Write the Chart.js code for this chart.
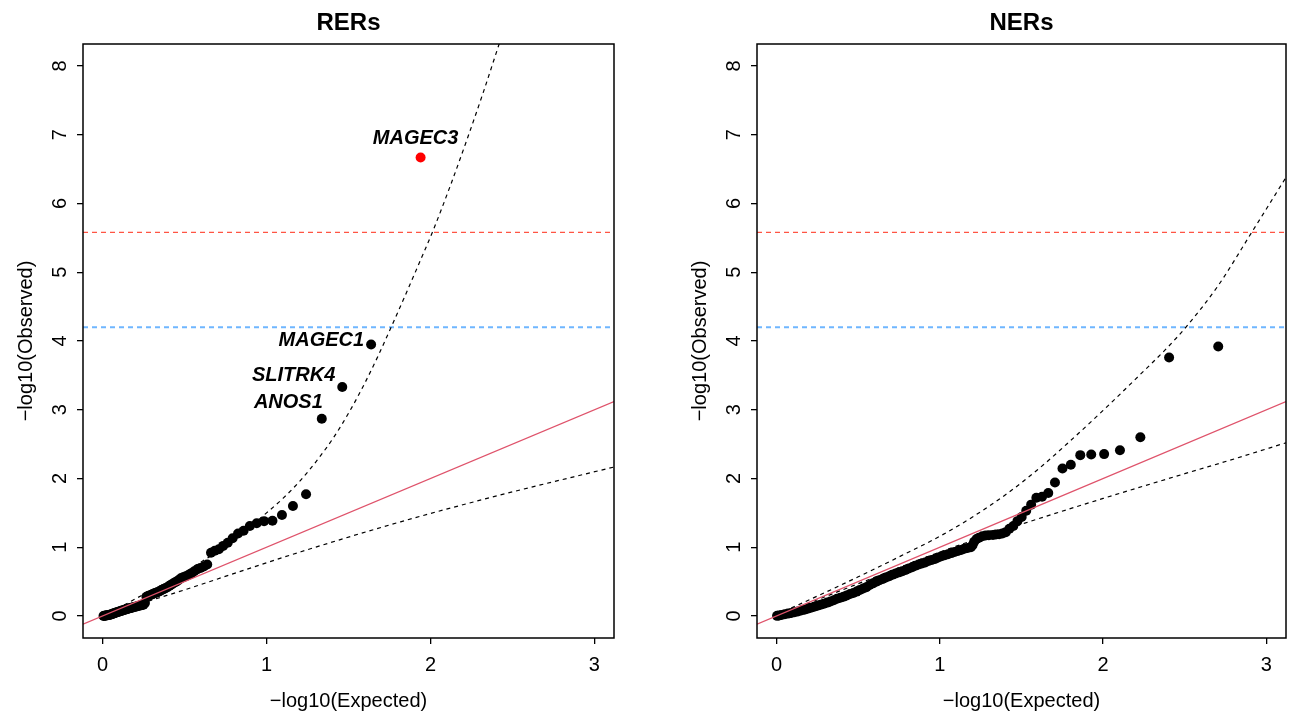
<!DOCTYPE html>
<html>
<head>
<meta charset="utf-8">
<script src="https://cdn.jsdelivr.net/npm/chart.js@4.4.1/dist/chart.umd.min.js"></script>
<style>
html, body { margin: 0; padding: 0; background: #fff; }
#wrap { position: relative; width: 1291px; height: 712px; overflow: hidden; }
canvas { position: absolute; top: 0; }
</style>
</head>
<body>
<div id="wrap">
  <canvas id="rers" width="645" height="712" style="left:0px"></canvas>
  <canvas id="ners" width="617" height="712" style="left:674px"></canvas>
</div>
<script>
// AXES
var xTicks = [0, 1, 2, 3];
var yTicks = [0, 1, 2, 3, 4, 5, 6, 7, 8];
var xRange = [-0.12, 3.12];
var yRange = [-0.32, 8.32];
var sigLine = 5.58;
var suggLine = 4.2;

// RERs panel
var rersExpected = [1.940, 1.638, 1.462, 1.337, 1.241, 1.161, 1.094, 1.036, 0.985, 0.940,
  0.898, 0.860, 0.826, 0.793, 0.763, 0.735, 0.709, 0.684, 0.661, 0.638,
  0.617, 0.597, 0.578, 0.559, 0.542, 0.525, 0.508, 0.492, 0.477, 0.462,
  0.448, 0.434, 0.421, 0.408, 0.395, 0.383, 0.371, 0.360, 0.348, 0.337,
  0.327, 0.316, 0.306, 0.296, 0.286, 0.277, 0.267, 0.258, 0.249, 0.241,
  0.232, 0.224, 0.215, 0.207, 0.199, 0.191, 0.184, 0.176, 0.169, 0.161,
  0.154, 0.147, 0.140, 0.133, 0.127, 0.120, 0.113, 0.107, 0.101, 0.094,
  0.088, 0.082, 0.076, 0.070, 0.064, 0.059, 0.053, 0.047, 0.042, 0.036,
  0.031, 0.026, 0.020, 0.015, 0.010, 0.005];
var rersObserved = [6.67, 3.95, 3.33, 2.87, 1.77, 1.60, 1.47, 1.385, 1.38, 1.35,
  1.31, 1.24, 1.20, 1.13, 1.065, 1.02, 0.97, 0.95, 0.92, 0.75,
  0.72, 0.70, 0.68, 0.65, 0.62, 0.60, 0.58, 0.565, 0.55, 0.52,
  0.50, 0.48, 0.46, 0.44, 0.42, 0.405, 0.39, 0.38, 0.36, 0.35,
  0.34, 0.33, 0.32, 0.31, 0.30, 0.29, 0.28, 0.19, 0.165, 0.16,
  0.155, 0.15, 0.145, 0.14, 0.135, 0.13, 0.125, 0.12, 0.115, 0.11,
  0.105, 0.10, 0.095, 0.09, 0.085, 0.08, 0.075, 0.07, 0.065, 0.06,
  0.055, 0.05, 0.045, 0.04, 0.035, 0.03, 0.025, 0.02, 0.018, 0.015,
  0.012, 0.01, 0.008, 0.005, 0.003, 0.001];
var rersGenes = ['MAGEC3', 'MAGEC1', 'SLITRK4', 'ANOS1'];
var rersRed = [0];
var rersUpperX = [0, 0.1, 0.2, 0.46, 0.65, 0.8, 1.0, 1.1, 1.21, 1.31, 1.41, 1.51, 1.6, 1.68, 1.76, 1.84, 1.92, 2.02, 2.12, 2.22, 2.32, 2.43];
var rersUpperY = [0, 0.12, 0.25, 0.58, 0.86, 1.1, 1.5, 1.71, 1.98, 2.27, 2.6, 2.99, 3.39, 3.78, 4.2, 4.63, 5.07, 5.63, 6.25, 6.91, 7.6, 8.4];
var rersLowerX = [0, 0.298, 0.5, 0.804, 1.21, 1.818, 2.426, 3.125];
var rersLowerY = [0, 0.23, 0.38, 0.62, 0.935, 1.37, 1.76, 2.17];

// NERs panel
var nersExpected = [2.705, 2.404, 2.228, 2.103, 2.006, 1.927, 1.860, 1.802, 1.751, 1.705,
  1.664, 1.626, 1.591, 1.559, 1.529, 1.501, 1.475, 1.450, 1.426, 1.404,
  1.383, 1.363, 1.343, 1.325, 1.30, 1.28, 1.26, 1.24, 1.225, 1.21,
  1.20, 1.19, 1.17, 1.15, 1.13, 1.11, 1.09, 1.07, 1.05, 1.03,
  1.01, 0.99, 0.97, 0.95, 0.93, 0.91, 0.89, 0.87, 0.85, 0.83,
  0.81, 0.79, 0.77, 0.75, 0.73, 0.71, 0.69, 0.67, 0.65, 0.63,
  0.61, 0.59, 0.57, 0.55, 0.53, 0.51, 0.49, 0.47, 0.45, 0.43,
  0.41, 0.39, 0.37, 0.35, 0.33, 0.31, 0.29, 0.27, 0.25, 0.23,
  0.21, 0.19, 0.17, 0.15, 0.13, 0.11, 0.09, 0.07, 0.05, 0.03,
  0.015, 0.003];
var nersObserved = [3.92, 3.76, 2.60, 2.41, 2.355, 2.35, 2.34, 2.20, 2.145, 1.943,
  1.79, 1.735, 1.72, 1.62, 1.53, 1.44, 1.38, 1.31, 1.27, 1.22,
  1.20, 1.19, 1.185, 1.18, 1.175, 1.17, 1.16, 1.14, 1.12, 1.08,
  1.03, 1.00, 0.99, 0.98, 0.96, 0.945, 0.93, 0.915, 0.90, 0.885,
  0.87, 0.85, 0.83, 0.815, 0.80, 0.78, 0.765, 0.75, 0.73, 0.71,
  0.69, 0.67, 0.65, 0.635, 0.62, 0.60, 0.58, 0.56, 0.54, 0.52,
  0.50, 0.475, 0.45, 0.42, 0.40, 0.38, 0.355, 0.335, 0.32, 0.30,
  0.28, 0.265, 0.25, 0.23, 0.21, 0.195, 0.18, 0.165, 0.15, 0.135,
  0.12, 0.105, 0.09, 0.08, 0.065, 0.055, 0.045, 0.035, 0.025, 0.015,
  0.008, 0.002];
var nersUpperX = [0, 0.25, 0.5, 0.75, 1.0, 1.2, 1.4, 1.6, 1.8, 2.0, 2.2, 2.4, 2.51, 2.7, 2.91, 3.12];
var nersUpperY = [0.02, 0.29, 0.57, 0.86, 1.16, 1.44, 1.76, 2.13, 2.55, 2.99, 3.45, 3.92, 4.21, 4.79, 5.58, 6.38];
var nersLowerX = [0, 0.5, 1.0, 1.52, 2.0, 2.5, 2.81, 3.12];
var nersLowerY = [0, 0.47, 0.93, 1.35, 1.71, 2.07, 2.29, 2.52];

// LABEL PLACEMENT (pixels from the point)
var labelPlace = {
  MAGEC3: { dx: -5, dy: -19, align: 'center' },
  MAGEC1: { dx: -7, dy: -4, align: 'right' },
  SLITRK4: { dx: -7, dy: -12, align: 'right' },
  ANOS1: { dx: 1, dy: -16, align: 'right' }
};

var FONT = '"Liberation Sans", Arial, Helvetica, sans-serif';

function pairs(xs, ys) {
  return xs.map(function(x, i) { return { x: x, y: ys[i] }; });
}

// TEXT, BOX AND LABELS
var qqText = {
  id: 'qqText',
  afterDraw: function(chart, args, opts) {
    var ctx = chart.ctx;
    var a = chart.chartArea;
    var xs = chart.scales.x, ys = chart.scales.y;
    ctx.save();
    ctx.strokeStyle = '#000';
    ctx.lineWidth = 1.5;
    ctx.strokeRect(a.left, a.top, a.right - a.left, a.bottom - a.top);

    ctx.fillStyle = '#000';
    ctx.textAlign = 'center';
    ctx.textBaseline = 'middle';
    ctx.font = '20px ' + FONT;
    xTicks.forEach(function(v) {
      ctx.fillText(String(v), xs.getPixelForValue(v), 665);
    });
    yTicks.forEach(function(v) {
      ctx.save();
      ctx.translate(60, ys.getPixelForValue(v));
      ctx.rotate(-Math.PI / 2);
      ctx.fillText(String(v), 0, 0);
      ctx.restore();
    });
    ctx.fillText('\u2212log10(Expected)', (a.left + a.right) / 2, 701);
    ctx.save();
    ctx.translate(26, (a.top + a.bottom) / 2);
    ctx.rotate(-Math.PI / 2);
    ctx.fillText('\u2212log10(Observed)', 0, 0);
    ctx.restore();

    ctx.font = 'bold 24px ' + FONT;
    ctx.fillText(opts.title, (a.left + a.right) / 2, 23);

    if (opts.genes) {
      ctx.font = 'italic bold 20px ' + FONT;
      opts.genes.forEach(function(g, i) {
        var p = labelPlace[g];
        ctx.textAlign = p.align;
        ctx.fillText(g, xs.getPixelForValue(opts.ex[i]) + p.dx, ys.getPixelForValue(opts.ob[i]) + p.dy);
      });
    }
    ctx.restore();
  }
};

function lineSet(data, color, width, dash) {
  return {
    data: data,
    showLine: true,
    borderColor: color,
    borderWidth: width,
    borderDash: dash,
    pointRadius: 0,
    fill: false,
    cubicInterpolationMode: 'monotone'
  };
}

function makeQQ(id, title, ex, ob, upX, upY, loX, loY, red, genes, rightPad) {
  var colors = ex.map(function(v, i) { return red.indexOf(i) >= 0 ? '#FF0000' : '#000000'; });
  var diag = xRange.map(function(v) { return { x: v, y: v }; });
  return new Chart(document.getElementById(id).getContext('2d'), {
    type: 'scatter',
    data: {
      datasets: [
        lineSet(diag, '#DF536B', 1.3, []),
        {
          data: pairs(ex, ob),
          pointRadius: 5,
          pointBackgroundColor: colors,
          pointBorderWidth: 0,
          showLine: false
        },
        lineSet(pairs(upX, upY), '#000', 1.2, [4, 4]),
        lineSet(pairs(loX, loY), '#000', 1.2, [4, 4]),
        lineSet(xRange.map(function(v) { return { x: v, y: sigLine }; }), '#FF5544', 1.3, [5, 4]),
        lineSet(xRange.map(function(v) { return { x: v, y: suggLine }; }), '#6FB6FF', 2, [5, 4])
      ]
    },
    options: {
      responsive: false,
      animation: false,
      events: [],
      layout: { padding: { left: 0, right: rightPad, top: 44, bottom: 0 } },
      plugins: {
        legend: { display: false },
        tooltip: { enabled: false },
        qqText: { title: title, genes: genes, ex: ex, ob: ob }
      },
      scales: {
        x: {
          type: 'linear',
          min: xRange[0],
          max: xRange[1],
          afterBuildTicks: function(s) { s.ticks = xTicks.map(function(v) { return { value: v }; }); },
          afterFit: function(s) { s.height = 74; },
          ticks: { display: false },
          border: { display: false },
          grid: { drawOnChartArea: false, drawTicks: true, tickLength: 6, color: '#000', lineWidth: 1.3 }
        },
        y: {
          type: 'linear',
          min: yRange[0],
          max: yRange[1],
          afterBuildTicks: function(s) { s.ticks = yTicks.map(function(v) { return { value: v }; }); },
          afterFit: function(s) { s.width = 83; },
          ticks: { display: false },
          border: { display: false },
          grid: { drawOnChartArea: false, drawTicks: true, tickLength: 6, color: '#000', lineWidth: 1.3 }
        }
      }
    },
    plugins: [qqText]
  });
}

makeQQ('rers', 'RERs', rersExpected, rersObserved, rersUpperX, rersUpperY, rersLowerX, rersLowerY, rersRed, rersGenes, 31);
makeQQ('ners', 'NERs', nersExpected, nersObserved, nersUpperX, nersUpperY, nersLowerX, nersLowerY, [], null, 1);
</script>
</body>
</html>
